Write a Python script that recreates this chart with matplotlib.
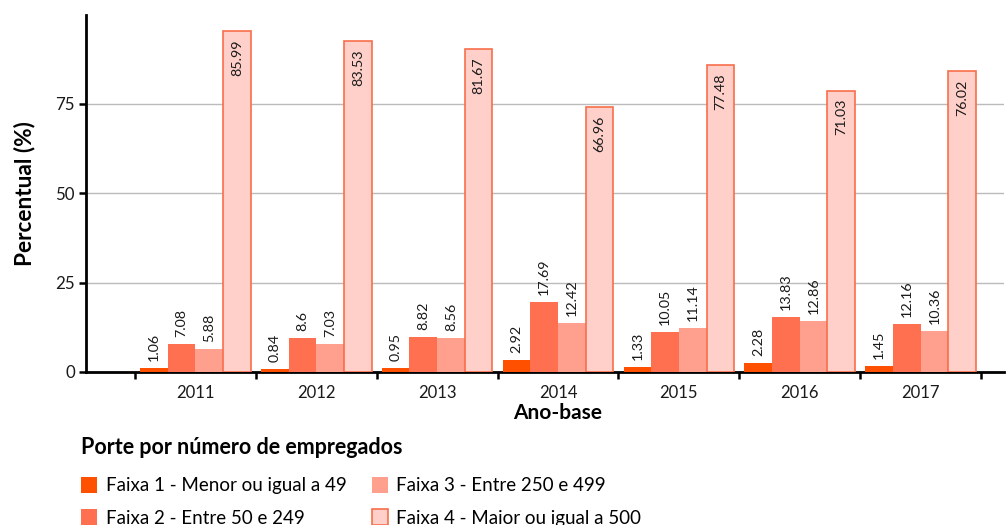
import matplotlib
matplotlib.use("Agg")
import matplotlib.pyplot as plt
from matplotlib.patches import Patch

plt.rcParams['font.family'] = ['Lato', 'DejaVu Sans']

anos = ['2011', '2012', '2013', '2014', '2015', '2016', '2017']
faixa1 = [1.06, 0.84, 0.95, 2.92, 1.33, 2.28, 1.45]
faixa2 = [7.08, 8.6, 8.82, 17.69, 10.05, 13.83, 12.16]
faixa3 = [5.88, 7.03, 8.56, 12.42, 11.14, 12.86, 10.36]
faixa4 = [85.99, 83.53, 81.67, 66.96, 77.48, 71.03, 76.02]
series_labels = [
    'Faixa 1 - Menor ou igual a 49',
    'Faixa 2 - Entre 50 e 249',
    'Faixa 3 - Entre 250 e 499',
    'Faixa 4 - Maior ou igual a 500',
]
y_tick_labels = [0, 25, 50, 75]

colors = ['#FF5000', '#FF7050', '#FFA08F', '#FFD0C9']
edge4 = '#F76E4A'
# the value axis of this chart is stretched: a tick labelled v sits at v / axis_stretch
axis_stretch = 1.107

fig = plt.figure(figsize=(10.06, 5.25), dpi=100)
W, H = 1006, 525
ax = fig.add_axes([86 / W, 1 - 372 / H, (1004 - 86) / W, (372 - 15) / H])

series = [faixa1, faixa2, faixa3, faixa4]
width = 0.229
x = list(range(len(anos)))
for i, vals in enumerate(series):
    off = (i - 1.5) * width
    xs = [xi + off for xi in x]
    if i == 3:
        bars = ax.bar(xs, vals, width, color=colors[i], edgecolor=edge4,
                      linewidth=1.2, zorder=3)
        for b, v in zip(bars, vals):
            ax.annotate(f'{v:g}', (b.get_x() + b.get_width() / 2, v),
                        xytext=(0, -6), textcoords='offset points',
                        rotation=90, ha='center', va='top', fontsize=10.3,
                        color='#1a1a1a', zorder=4)
    else:
        bars = ax.bar(xs, vals, width, color=colors[i], linewidth=0, zorder=3)
        for b, v in zip(bars, vals):
            ax.annotate(f'{v:g}', (b.get_x() + b.get_width() / 2, v),
                        xytext=(0, 5), textcoords='offset points',
                        rotation=90, ha='center', va='bottom', fontsize=10.3,
                        color='#1a1a1a', zorder=4)

ax.set_xlim(-0.905, 6.69)
ax.set_ylim(0, 99.8 / axis_stretch)

ax.set_yticks([v / axis_stretch for v in y_tick_labels])
ax.set_yticklabels([str(v) for v in y_tick_labels], fontsize=12.2, color='#1a1a1a')
ax.yaxis.grid(True, color='#BBBBBB', linewidth=1, zorder=0)
ax.set_axisbelow(True)

# year labels centred in each group, tick marks on group boundaries
ax.set_xticks([i - 0.5 for i in range(len(anos) + 1)])
ax.set_xticklabels([])
ax.set_xticks(x, minor=True)
ax.set_xticklabels(anos, minor=True, fontsize=12, color='#1a1a1a')
ax.tick_params(axis='x', which='minor', length=0, pad=9.5)
ax.tick_params(axis='x', which='major', length=5, width=1.8, direction='out')
ax.tick_params(axis='y', length=5, width=1.8, direction='out', pad=3)

for s in ['top', 'right']:
    ax.spines[s].set_visible(False)
for s in ['left', 'bottom']:
    ax.spines[s].set_linewidth(2)
    ax.spines[s].set_color('#000000')

ax.set_ylabel('Percentual (%)', fontsize=16.3, fontweight='bold', labelpad=14)
# centre the axis title under the year groups rather than the whole axis
ax.set_xlabel('Ano-base', fontsize=15, fontweight='bold', labelpad=1.5,
              x=(558 - 86) / (1004 - 86))

handles = [Patch(facecolor=colors[i], edgecolor=(edge4 if i == 3 else colors[i]),
                 linewidth=(1.2 if i == 3 else 0)) for i in range(4)]
leg = fig.legend(handles, series_labels, ncol=2, loc='upper left',
                 bbox_to_anchor=(64 / W, 1 - 420.5 / H), frameon=False,
                 title='Porte por número de empregados',
                 title_fontproperties={'weight': 'bold', 'size': 15.5},
                 fontsize=13.5, handlelength=0.87, handleheight=0.9,
                 handletextpad=0.45, columnspacing=1.35, labelspacing=0.81)
leg._legend_box.align = 'left'
leg._legend_box.sep = 13.4

fig.savefig('out.png', dpi=100)
